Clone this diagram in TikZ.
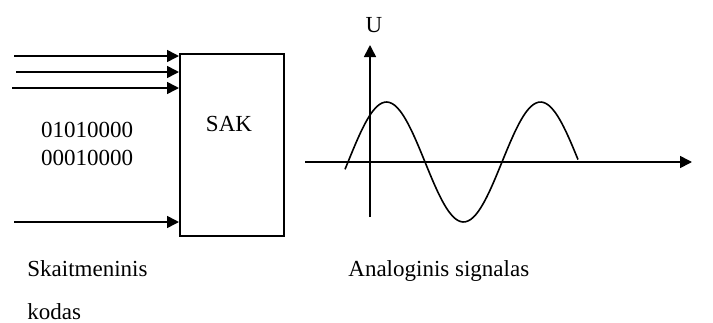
\documentclass[tikz,border=0pt]{standalone}
\usepackage{fontspec}
\setmainfont{Liberation Serif}
\usetikzlibrary{arrows.meta,positioning}
\tikzset{
  sig/.style={line width=0.8pt,-{Triangle[length=6pt,width=6pt]}},
  lbl/.style={font=\fontsize{11.5}{14}\selectfont,inner sep=0pt}
}
\begin{document}
\begin{tikzpicture}[x=0.5pt,y=-0.5pt]
  \useasboundingbox (0,0) rectangle (713,322);
  % DAC block
  \node[draw,line width=0.8pt,minimum width=52pt,minimum height=91pt,
    inner sep=0pt,anchor=north west] (sak) at (179,53) {};
  \node[lbl] (saklbl) at (229,124) {SAK};
  % Input lines
  \foreach \n/\x/\y in {a/14/56,b/16/72,c/12/88,d/14/222}{
    \coordinate (in\n) at (\x,\y);
    \draw[sig] (in\n) -- (in\n -| sak.west);}
  \node[lbl,align=center] (code) at (87,144) {01010000\\00010000};
  % Axes
  \coordinate (xs) at (305,162);
  \coordinate (xe) at (692,162);
  \coordinate (ys) at (370,217);
  \coordinate (ye) at (370,45);
  \draw[sig] (xs) -- (xe);
  \draw[sig] (ys) -- (ye);
  \node[lbl] (u) at (374,25) {U};
  % Analog signal
  \draw[line width=0.8pt] plot[domain=345:578,samples=90,smooth]
    (\x,{162+60*sin((\x-425)/154*360)});
  % Captions
  \node[lbl,anchor=base west] (digcap) at (27,276) {Skaitmeninis};
  \node[lbl,anchor=base west] (digcap2) at (27,319) {kodas};
  \node[lbl,anchor=base west] (anacap) at (348,276) {Analoginis signalas};
\end{tikzpicture}
\end{document}
